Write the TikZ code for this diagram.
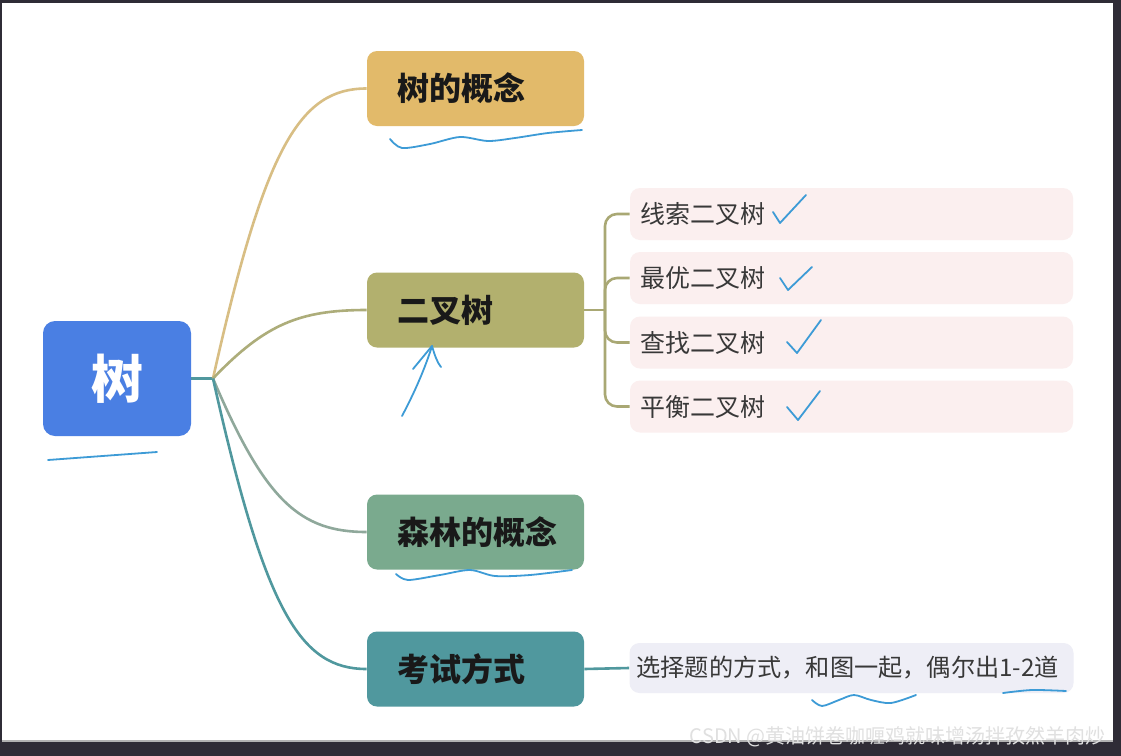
\documentclass[tikz,border=0pt]{standalone}
\usepackage{fontspec}
\setmainfont{Noto Sans CJK SC}
\usetikzlibrary{positioning}

\definecolor{framedark}{HTML}{2F2C36}
\definecolor{rootblue}{HTML}{4A7FE3}
\definecolor{conceptgold}{HTML}{E2BA6A}
\definecolor{binolive}{HTML}{B2B06E}
\definecolor{forestgreen}{HTML}{7AAA8E}
\definecolor{examteal}{HTML}{50989E}
\definecolor{leafpink}{HTML}{FBEFEF}
\definecolor{leaflilac}{HTML}{EEEEF6}
\definecolor{inkblue}{HTML}{3D9BD6}

\begin{document}
\begin{tikzpicture}[x=0.5pt,y=-0.5pt,
  root/.style={rounded corners=6pt,fill=rootblue,text=white,minimum width=74pt,minimum height=57.5pt,font=\fontsize{26}{30}\selectfont\bfseries},
  topic/.style={rounded corners=5pt,minimum height=37.5pt,text width=78.5pt,inner xsep=15pt,align=left,text=black!90,font=\fontsize{16}{19}\selectfont\bfseries},
  leaf/.style={rounded corners=5pt,fill=leafpink,minimum height=26pt,text width=211.5pt,inner xsep=5pt,align=left,text=black!78,font=\fontsize{12.5}{15}\selectfont},
  branch/.style={line width=1.3pt},
  ink/.style={draw=inkblue,line width=0.9pt,line cap=round,line join=round}
]
  % screen frame
  \useasboundingbox (0,0) rectangle (1121,756);
  \fill[framedark] (0,0) rectangle (1121,756);
  \fill[white] (2,3) rectangle (1113,740);
  \fill[black!30] (2,740) rectangle (1113,742);

  \node[root] (shu) at (117,378.5) {树};
  \node[topic,fill=conceptgold] (gainian) at (475.5,88.5) {树的概念};
  \node[topic,fill=binolive] (erchashu) at (475.5,310) {二叉树};
  \node[topic,fill=forestgreen] (senlin) at (475.5,532) {森林的概念};
  \node[topic,fill=examteal] (kaoshi) at (475.5,669) {考试方式};

  \node[leaf] (xiansuo) at (851.5,214) {线索二叉树};
  \node[leaf] (zuiyou) at (851.5,278) {最优二叉树};
  \node[leaf] (chazhao) at (851.5,342.5) {查找二叉树};
  \node[leaf] (pingheng) at (851.5,406.5) {平衡二叉树};
  \node[leaf,fill=leaflilac,minimum height=25pt,text width=215pt,inner xsep=3.5pt,font=\fontsize{12.1}{14}\selectfont] (tixing) at (851.5,668) {选择题的方式，和图一起，偶尔出1-2道};

  % branches
  \coordinate (hub) at (213,378.5);
  \draw[branch,examteal] (shu.east) -- (hub);
  \draw[branch,color={rgb,255:red,216;green,190;blue,132}] (hub) .. controls (265,146) and (300,88.5) .. (gainian.west);
  \draw[branch,color={rgb,255:red,173;green,173;blue,122}] (hub) .. controls (265,324) and (300,310) .. (erchashu.west);
  \draw[branch,color={rgb,255:red,143;green,168;blue,155}] (hub) .. controls (265,501) and (300,532) .. (senlin.west);
  \draw[branch,examteal] (hub) .. controls (265,611) and (300,669) .. (kaoshi.west);

  \draw[branch,color={rgb,255:red,169;green,168;blue,116}] (erchashu.east) -- (605,310) coordinate (fork);
  \foreach \leafname in {xiansuo,zuiyou,chazhao,pingheng}
    \draw[branch,color={rgb,255:red,169;green,168;blue,116},rounded corners=6pt] (fork) |- (\leafname.west);
  \draw[branch,examteal] (kaoshi.east) -- (tixing.west);

  % hand marks
  \draw[ink] plot[smooth] coordinates {(390,139) (402,148) (430,144) (460,137) (488,141) (515,138) (548,133) (582,130)};
  \draw[ink] (48,460) -- (157,452);
  \draw[ink] (402,416) .. controls (418,386) and (427,362) .. (432,346);
  \draw[ink] (413,369) -- (432,346) .. controls (435,356) and (437,362) .. (441,367);
  \draw[ink] (773,212) -- (780,223) -- (806,195);
  \draw[ink] (780,278) -- (788,290) -- (812,267);
  \draw[ink] (787,342) -- (797,353) -- (821,320);
  \draw[ink] (787,407) -- (798,420) -- (820,391);
  \draw[ink] plot[smooth] coordinates {(396,574) (408,580) (440,575) (470,570) (495,576) (530,575) (572,570)};
  \draw[ink] plot[smooth] coordinates {(812,700) (822,706) (839,700) (854,695) (871,700) (891,703) (916,695)};
  \draw[ink] plot[smooth] coordinates {(1003,693) (1032,690) (1066,691)};

  \node[anchor=east,inner sep=0pt,text=white!88!black,font=\fontsize{10}{12}\selectfont] (csdn) at (1106,737) {CSDN @黄油饼卷咖喱鸡就味增汤拌孜然羊肉炒};
\end{tikzpicture}
\end{document}
